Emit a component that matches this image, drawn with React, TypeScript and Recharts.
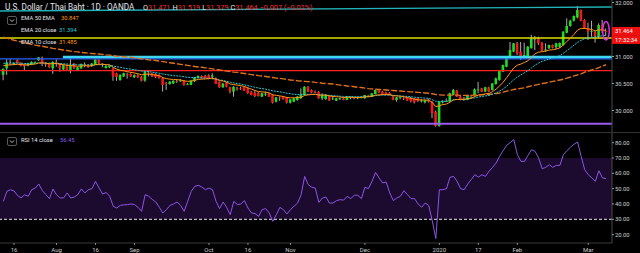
import React from 'react';
import { ComposedChart, Bar, Line, XAxis, YAxis, ReferenceLine, ReferenceArea, ReferenceDot } from 'recharts';

// ---- bar index: 0 = 16 Jul 2019, one bar per trading day ----
const FIRST_BAR = -3;
const X_MIN = -3.95;
const X_MAX = 168.7;

const opens = [30.66,30.78,30.88,30.85,30.93,30.885,30.85,30.83,30.845,30.89,
30.93,30.98,30.87,30.87,30.78,30.89,30.87,30.76,30.84,30.75,
30.87,30.75,30.78,30.86,30.845,30.82,30.845,30.94,30.87,30.785,
30.80,30.78,30.69,30.565,30.63,30.675,30.675,30.615,30.655,30.627,
30.555,30.70,30.69,30.675,30.655,30.60,30.51,30.49,30.50,30.545,
30.54,30.55,30.48,30.475,30.54,30.60,30.64,30.64,30.655,30.625,
30.60,30.53,30.43,30.515,30.43,30.35,30.42,30.41,30.44,30.41,
30.349,30.33,30.33,30.256,30.30,30.318,30.287,30.163,30.24,30.256,
30.244,30.145,30.163,30.194,30.225,30.287,30.441,30.38,30.345,30.349,
30.225,30.21,30.268,30.22,30.182,30.22,30.225,30.194,30.24,30.24,
30.235,30.24,30.225,30.28,30.256,30.305,30.38,30.349,30.33,30.33,
30.256,30.194,30.24,30.23,30.244,30.23,30.22,30.23,30.18,30.15,
30.20,30.165,29.98,29.715,30.16,30.17,30.165,30.29,30.37,30.26,
30.21,30.195,30.28,30.287,30.375,30.41,30.35,30.43,30.38,30.49,
30.565,30.72,30.81,31.00,31.09,31.244,31.09,31.00,30.997,31.151,
31.32,31.336,31.256,31.12,31.151,31.213,31.17,31.18,31.213,31.44,
31.565,31.663,31.725,31.861,31.676,31.521,31.46,31.46,31.367,31.583,
31.471];
const highs = [30.78,30.95,30.95,30.89,30.95,30.89,30.87,30.88,30.91,30.91,
30.99,31.00,30.89,30.88,30.91,30.95,30.88,30.85,30.85,31.01,
30.88,30.81,30.87,30.89,30.86,30.88,30.95,30.95,30.88,30.83,
30.83,30.80,30.70,30.67,30.70,30.70,30.69,30.67,30.67,30.64,
30.74,30.73,30.70,30.69,30.67,30.61,30.53,30.54,30.56,30.58,
30.58,30.56,30.51,30.56,30.62,30.65,30.65,30.66,30.67,30.69,
30.61,30.54,30.51,30.53,30.44,30.45,30.44,30.44,30.45,30.42,
30.36,30.36,30.34,30.33,30.349,30.33,30.30,30.25,30.26,30.26,
30.25,30.21,30.23,30.27,30.41,30.45,30.45,30.39,30.37,30.36,
30.318,30.30,30.28,30.256,30.23,30.237,30.235,30.26,30.256,30.256,
30.256,30.268,30.29,30.29,30.32,30.39,30.39,30.36,30.349,30.34,
30.27,30.25,30.256,30.244,30.25,30.25,30.23,30.24,30.21,30.20,
30.22,30.17,30.00,30.17,30.19,30.22,30.33,30.40,30.38,30.27,
30.25,30.29,30.29,30.41,30.53,30.42,30.44,30.44,30.51,30.61,
30.75,30.85,30.99,31.27,31.25,31.27,31.27,31.256,31.19,31.40,
31.38,31.367,31.27,31.244,31.22,31.22,31.256,31.26,31.47,31.706,
31.68,31.76,31.935,31.87,31.69,31.626,31.663,31.48,31.614,31.676,
31.519];
const lows = [30.56,30.66,30.84,30.84,30.87,30.82,30.74,30.82,30.84,30.87,
30.92,30.82,30.81,30.79,30.68,30.81,30.72,30.75,30.74,30.69,
30.77,30.74,30.77,30.80,30.79,30.81,30.84,30.86,30.80,30.78,
30.79,30.55,30.55,30.55,30.62,30.59,30.62,30.60,30.60,30.54,
30.53,30.63,30.62,30.60,30.59,30.35,30.38,30.48,30.49,30.51,
30.53,30.46,30.47,30.47,30.53,30.59,30.59,30.59,30.58,30.577,
30.49,30.42,30.42,30.43,30.32,30.256,30.37,30.38,30.36,30.31,
30.28,30.25,30.26,30.25,30.268,30.25,30.13,30.15,30.18,30.20,
30.13,30.13,30.155,30.18,30.22,30.28,30.34,30.32,30.318,30.22,
30.194,30.20,30.18,30.194,30.175,30.194,30.19,30.19,30.207,30.207,
30.21,30.225,30.22,30.244,30.25,30.30,30.32,30.30,30.287,30.28,
30.19,30.163,30.207,30.194,30.18,30.15,30.13,30.16,30.15,30.13,
30.15,29.86,29.70,29.70,30.13,30.16,30.16,30.28,30.25,30.19,
30.18,30.19,30.23,30.28,30.32,30.34,30.34,30.34,30.37,30.48,
30.55,30.71,30.80,30.97,31.08,31.03,30.935,30.966,30.99,31.15,
31.12,31.213,31.10,31.089,31.14,31.15,31.13,31.16,31.20,31.429,
31.55,31.65,31.706,31.65,31.51,31.305,31.367,31.256,31.336,31.429,
31.379];
const closes = [30.77,30.89,30.875,30.88,30.875,30.83,30.82,30.87,30.90,30.895,
30.985,30.87,30.865,30.80,30.90,30.875,30.78,30.84,30.75,30.84,
30.78,30.80,30.86,30.855,30.80,30.87,30.945,30.875,30.86,30.825,
30.825,30.63,30.615,30.66,30.69,30.665,30.63,30.655,30.615,30.552,
30.72,30.695,30.63,30.615,30.60,30.47,30.505,30.535,30.55,30.54,
30.555,30.47,30.49,30.555,30.615,30.64,30.60,30.60,30.60,30.65,
30.49,30.43,30.50,30.44,30.35,30.44,30.41,30.405,30.367,30.318,
30.287,30.268,30.268,30.318,30.31,30.256,30.145,30.244,30.235,30.207,
30.145,30.207,30.225,30.256,30.287,30.441,30.349,30.33,30.34,30.225,
30.287,30.29,30.182,30.225,30.225,30.225,30.194,30.256,30.245,30.235,
30.24,30.25,30.287,30.275,30.318,30.38,30.33,30.305,30.30,30.287,
30.194,30.244,30.245,30.225,30.182,30.17,30.15,30.17,30.185,30.19,
30.165,29.95,29.715,30.165,30.165,30.175,30.318,30.38,30.26,30.195,
30.215,30.287,30.275,30.392,30.39,30.348,30.429,30.35,30.50,30.595,
30.737,30.842,30.984,31.12,31.244,31.058,30.966,31.027,31.182,31.336,
31.33,31.244,31.108,31.13,31.213,31.163,31.244,31.25,31.46,31.565,
31.663,31.75,31.861,31.663,31.521,31.46,31.47,31.367,31.583,31.478,
31.464];

const ema10 = [30.83,30.84,30.845,30.85,30.855,30.85,30.845,30.845,30.855,30.86,
30.88,30.88,30.875,30.865,30.87,30.87,30.855,30.85,30.835,30.835,
30.825,30.82,30.825,30.83,30.825,30.83,30.85,30.855,30.855,30.85,
30.845,30.80,30.765,30.745,30.735,30.72,30.705,30.695,30.68,30.66,
30.67,30.675,30.665,30.655,30.645,30.61,30.59,30.58,30.575,30.57,
30.565,30.55,30.54,30.545,30.56,30.575,30.58,30.585,30.59,30.60,
30.58,30.555,30.545,30.525,30.49,30.48,30.47,30.46,30.445,30.42,
30.395,30.37,30.35,30.345,30.34,30.325,30.29,30.28,30.27,30.26,
30.24,30.235,30.235,30.24,30.245,30.28,30.29,30.295,30.30,30.285,
30.285,30.285,30.27,30.26,30.255,30.25,30.24,30.245,30.245,30.24,
30.24,30.242,30.25,30.255,30.265,30.285,30.29,30.295,30.295,30.295,
30.275,30.27,30.265,30.255,30.24,30.225,30.21,30.20,30.195,30.195,
30.19,30.15,30.07,30.09,30.11,30.12,30.155,30.195,30.205,30.205,
30.207,30.22,30.23,30.26,30.285,30.295,30.31,30.315,30.35,30.395,
30.455,30.525,30.61,30.70,30.79,30.84,30.86,30.89,30.92,30.99,
31.05,31.08,31.09,31.10,31.12,31.125,31.14,31.16,31.215,31.28,
31.34,31.41,31.49,31.52,31.52,31.51,31.50,31.475,31.495,31.49,
31.485];
const ema20 = [30.875,30.875,30.88,30.88,30.88,30.875,30.87,30.87,30.87,30.875,
30.88,30.88,30.88,30.875,30.875,30.875,30.87,30.865,30.86,30.855,
30.85,30.845,30.845,30.845,30.84,30.84,30.845,30.85,30.85,30.845,
30.84,30.825,30.81,30.80,30.785,30.775,30.765,30.755,30.745,30.73,
30.725,30.72,30.71,30.70,30.69,30.675,30.665,30.655,30.645,30.64,
30.635,30.625,30.615,30.61,30.61,30.61,30.605,30.60,30.595,30.59,
30.58,30.565,30.555,30.54,30.525,30.51,30.50,30.49,30.475,30.46,
30.445,30.43,30.415,30.405,30.395,30.38,30.365,30.355,30.345,30.335,
30.32,30.31,30.30,30.295,30.295,30.30,30.30,30.30,30.30,30.29,
30.29,30.285,30.28,30.275,30.27,30.265,30.26,30.26,30.26,30.255,
30.255,30.255,30.26,30.26,30.265,30.275,30.28,30.285,30.285,30.285,
30.28,30.275,30.27,30.265,30.26,30.255,30.245,30.24,30.235,30.23,
30.225,30.20,30.17,30.17,30.17,30.17,30.185,30.20,30.205,30.205,
30.205,30.215,30.22,30.235,30.25,30.26,30.27,30.28,30.30,30.325,
30.36,30.40,30.45,30.51,30.57,30.62,30.66,30.70,30.74,30.79,
30.84,30.88,30.91,30.93,30.955,30.975,30.995,31.015,31.06,31.11,
31.16,31.21,31.26,31.30,31.33,31.345,31.355,31.36,31.375,31.385,
31.394];
const ema50 = [31.36,31.34,31.32,31.30,31.285,31.27,31.255,31.24,31.225,31.21,
31.20,31.19,31.175,31.165,31.15,31.14,31.13,31.12,31.11,31.10,
31.09,31.085,31.075,31.07,31.06,31.055,31.05,31.045,31.04,31.03,
31.025,31.015,31.005,31.0,30.995,30.99,30.985,30.975,30.965,30.955,
30.95,30.94,30.935,30.925,30.915,30.905,30.895,30.885,30.875,30.865,
30.855,30.845,30.835,30.825,30.815,30.805,30.80,30.79,30.78,30.77,
30.76,30.75,30.74,30.73,30.72,30.71,30.705,30.695,30.685,30.675,
30.665,30.655,30.645,30.64,30.63,30.62,30.61,30.60,30.595,30.585,
30.575,30.565,30.56,30.55,30.545,30.54,30.535,30.53,30.52,30.515,
30.505,30.50,30.495,30.49,30.48,30.47,30.465,30.455,30.45,30.44,
30.43,30.425,30.415,30.405,30.40,30.395,30.39,30.385,30.38,30.375,
30.37,30.365,30.36,30.355,30.35,30.345,30.34,30.335,30.33,30.325,
30.32,30.31,30.295,30.29,30.285,30.285,30.285,30.285,30.285,30.28,
30.28,30.28,30.28,30.285,30.29,30.29,30.295,30.30,30.305,30.315,
30.325,30.34,30.36,30.37,30.39,30.40,30.41,30.42,30.44,30.455,
30.47,30.485,30.50,30.51,30.525,30.54,30.55,30.565,30.58,30.60,
30.62,30.64,30.66,30.68,30.71,30.73,30.75,30.77,30.795,30.82,
30.847];
const rsi14 = [41.7,48.3,49.3,48.5,45.5,44,46,45,49.3,50.4,
53,48.7,46.1,43.5,49.8,46,43.9,44,47.2,43.9,
44.5,46.1,49.8,47.2,49.3,50,54.8,50.4,46.5,47.5,
45,38.5,37.4,39.1,39.4,39.6,40,39.6,37.8,35.2,
46.1,45,43,41.3,37.8,34.1,36.3,39.1,40,41.3,
39.1,35.2,41.7,48.3,51.5,52.2,51,49.3,50.4,49.3,
41.7,37,41.3,37.8,33,41.7,39.6,40,42.2,37.4,
34.1,33.8,31.9,36.3,37,34.1,28.7,33,37.8,36.3,
33.5,36.3,38.5,40.6,46.1,58,52.6,50.9,50.4,41,
43.9,44.5,40.6,40.6,42.2,42.8,42.5,45,43.5,45.7,
45.7,43.5,50.9,50,54.8,60.6,57,53.7,54.3,47.2,
42.2,43.9,45,48.7,46.1,43.5,43.5,40,37.8,40.6,
39,29,17.5,49.3,49.3,50,57.4,58,54.8,50,
49.3,53,55.9,59.1,57.5,59.1,58,61.3,63.9,66.7,
71.1,74.8,78.3,80,82,72.2,67.8,67.8,71.7,75.4,
74.3,70,63,63.9,65.6,63.9,65.2,65.2,72.2,74.8,
77,79,80.4,71,62.4,59.1,57,54.8,61.7,57,
56.45];

// x axis labels
const tickIndex = [0, 12, 23, 34, 55, 66, 78, 99, 120, 131, 142, 162];
const tickLabels = ['16', 'Aug', '16', 'Sep', 'Oct', '16', 'Nov', 'Dec', '2020', '17', 'Feb', 'Mar'];

// axes
const PRICE_MIN = 29.602;
const PRICE_MAX = 32.046;
const LAST_PRICE = 31.464;
const priceTicks = [30, 30.5, 31, LAST_PRICE, 32];
const RSI_MIN = 14.54;
const RSI_MAX = 86.3;
const rsiTicks = [20, 30, 40, 50, 60, 70, 80];

// drawn levels
const trendStart = 31.843;
const trendEnd = 31.917;
const yellowLevel = 31.343;
const cyanLevel = 30.99;
const cyanStartBar = 13.8;
const blueLevel = 30.955;
const redLevel = 30.74;
const purpleLevel = 29.755;
const markBar = 167;
const markPrice = 31.476;

const data = opens.map((o, k) => ({
  i: FIRST_BAR + k,
  open: o,
  high: highs[k],
  low: lows[k],
  close: closes[k],
  range: [lows[k], highs[k]],
  ema10: ema10[k],
  ema20: ema20[k],
  ema50: ema50[k],
  rsi: rsi14[k],
}));

const GREEN = '#1fdc1f';
const RED = '#f01818';
const WICK = '#d8d8d8';
const FONT = 'Roboto, "Liberation Sans", Arial, sans-serif';

const Candle = (props: any) => {
  const { x, y, width, height, payload } = props;
  if (!payload || x == null) return null;
  const top = Math.min(y, y + height);
  const h = Math.abs(height);
  const { open, close, high, low } = payload;
  const span = high - low;
  const k = span > 0 ? h / span : 0;
  const cx = x + width / 2;
  const bTop = top + (high - Math.max(open, close)) * k;
  const bBot = top + (high - Math.min(open, close)) * k;
  const color = close >= open ? GREEN : RED;
  return (
    <g>
      <line x1={cx} x2={cx} y1={top} y2={top + h} stroke={WICK} strokeWidth={0.8} />
      <rect x={cx - 1.3} y={bTop} width={2.6} height={Math.max(bBot - bTop, 0.8)} fill={color} />
    </g>
  );
};

const PriceTick = (props: any) => {
  const { x, y, payload } = props;
  const v = payload.value;
  if (Math.abs(v - LAST_PRICE) < 1e-6) {
    return (
      <g>
        <rect x={x - 3} y={y - 4.5} width={28} height={9} fill="#ee1111" />
        <text x={x} y={y} dy="0.35em" fontSize={5.8} fill="#ffffff" fontFamily={FONT}>{v.toFixed(3)}</text>
        <rect x={x - 3} y={y + 4.5} width={28} height={8} fill="#ee1111" />
        <text x={x} y={y + 8.5} dy="0.35em" fontSize={5.8} fill="#ffffff" fontFamily={FONT}>17:32:34</text>
      </g>
    );
  }
  return (
    <text x={x} y={y} dy="0.35em" fontSize={5.8} fill="#d0d0d0" fontFamily={FONT}>{v.toFixed(3)}</text>
  );
};

const Chevron = ({ top }: { top: number }) => (
  <svg style={{ position: 'absolute', left: 7, top }} width={10} height={9}>
    <rect x={0.5} y={0.5} width={9} height={8} rx={1.5} fill="none" stroke="#5a5a5a" />
    <polyline points="3,3.5 5,5.5 7,3.5" fill="none" stroke="#cfcfcf" strokeWidth={0.9} />
  </svg>
);

const txt = (left: number, top: number, size: number, color: string, s: string) => (
  <div style={{ position: 'absolute', left, top, fontSize: size, lineHeight: `${size + 2}px`, color, fontFamily: FONT, whiteSpace: 'nowrap' }}>{s}</div>
);

export default function App() {
  return (
    <div style={{ position: 'absolute', left: 0, top: 0, width: 640, height: 253, background: '#000', overflow: 'hidden' }}>
      <div style={{ position: 'absolute', left: 0, top: 0 }}>
        <ComposedChart width={640} height={132} data={data} margin={{ top: 0, right: 0, bottom: 0, left: 0 }}>
          <XAxis dataKey="i" type="number" domain={[X_MIN, X_MAX]} allowDataOverflow hide />
          <YAxis orientation="right" width={28} domain={[PRICE_MIN, PRICE_MAX]} allowDataOverflow ticks={priceTicks} interval={0}
            tickSize={2} tickMargin={1} axisLine={{ stroke: '#4a4a4a' }} tickLine={{ stroke: '#9a9a9a' }} tick={(p: any) => <PriceTick {...p} />} />
          <ReferenceLine segment={[{ x: X_MIN, y: trendStart }, { x: X_MAX, y: trendEnd }]} stroke="#22b3b8" strokeWidth={1.4} ifOverflow="visible" />
          <ReferenceLine y={yellowLevel} stroke="#dede00" strokeWidth={1.4} />
          <ReferenceLine y={blueLevel} stroke="#2962ff" strokeWidth={1.4} />
          <ReferenceLine segment={[{ x: cyanStartBar, y: cyanLevel }, { x: X_MAX, y: cyanLevel }]} stroke="#3fd6f2" strokeWidth={2.6} />
          <ReferenceLine y={redLevel} stroke="#ff2222" strokeWidth={1.2} />
          <ReferenceLine y={purpleLevel} stroke="#9a5cf0" strokeWidth={2} />
          <Line type="linear" dataKey="ema50" stroke="#e0701c" strokeWidth={1.4} strokeDasharray="6 2" dot={false} activeDot={false} isAnimationActive={false} />
          <Bar dataKey="range" barSize={3} shape={(p: any) => <Candle {...p} />} activeBar={false} isAnimationActive={false} />
          <Line type="linear" dataKey="ema20" stroke="#2ec8d8" strokeWidth={1} strokeDasharray="2 1" dot={false} activeDot={false} isAnimationActive={false} />
          <Line type="linear" dataKey="ema10" stroke="#ff9418" strokeWidth={1} dot={false} activeDot={false} isAnimationActive={false} />
          <ReferenceDot x={markBar} y={markPrice} r={3} ifOverflow="visible"
            shape={(p: any) => <ellipse cx={p.cx} cy={p.cy} rx={3.3} ry={9.2} fill="none" stroke="#e030e8" strokeWidth={1.5} />} />
        </ComposedChart>
      </div>
      <div style={{ position: 'absolute', left: 0, top: 132, width: 640, height: 1, background: '#333' }} />
      <div style={{ position: 'absolute', left: 0, top: 133 }}>
        <ComposedChart width={640} height={120} data={data} margin={{ top: 0, right: 0, bottom: 0, left: 0 }}>
          <XAxis dataKey="i" type="number" domain={[X_MIN, X_MAX]} allowDataOverflow ticks={tickIndex} interval={0}
            tickFormatter={(v: number) => tickLabels[tickIndex.indexOf(v)] ?? ''} height={10} tickSize={2} tickMargin={3}
            axisLine={{ stroke: '#3a3a3a' }} tickLine={{ stroke: '#8a8a8a' }} tick={{ fill: '#c8c8c8', fontSize: 6, fontFamily: FONT }} />
          <YAxis orientation="right" width={28} domain={[RSI_MIN, RSI_MAX]} allowDataOverflow ticks={rsiTicks} interval={0}
            tickFormatter={(v: number) => v.toFixed(2)} tickSize={2} tickMargin={1} axisLine={{ stroke: '#4a4a4a' }}
            tickLine={{ stroke: '#9a9a9a' }} tick={{ fill: '#d0d0d0', fontSize: 5.8, fontFamily: FONT }} />
          <ReferenceArea y1={30} y2={70} fill="#1d0a2f" fillOpacity={1} stroke="none" />
          <ReferenceLine y={30} stroke="#e8e8e8" strokeDasharray="3 2" strokeWidth={1} />
          <Line type="linear" dataKey="rsi" stroke="#8a55e8" strokeWidth={1} dot={false} activeDot={false} isAnimationActive={false} />
        </ComposedChart>
      </div>
      {/* legends */}
      <div style={{ position: 'absolute', left: 5, top: 2, fontSize: 8.2, lineHeight: '11px', fontFamily: FONT, whiteSpace: 'nowrap', color: '#e0e3eb' }}>
        U.S. Dollar / Thai Baht · 1D · OANDA
      </div>
      <div style={{ position: 'absolute', left: 143, top: 3, fontSize: 7.3, lineHeight: '10px', fontFamily: FONT, whiteSpace: 'nowrap', color: '#e0e3eb' }}>
        <span>O</span><span style={{ color: '#f23030' }}>31.471</span>
        <span style={{ marginLeft: 2 }}>H</span><span style={{ color: '#f23030' }}>31.519</span>
        <span style={{ marginLeft: 2 }}>L</span><span style={{ color: '#f23030' }}>31.379</span>
        <span style={{ marginLeft: 2 }}>C</span><span style={{ color: '#f23030' }}>31.464 −0.007 (−0.02%)</span>
      </div>
      <Chevron top={16} />
      {txt(21, 15, 5.8, '#e0e3eb', 'EMA 50 EMA')}
      {txt(61, 15, 5.8, '#ff9800', '30.847')}
      {txt(21, 27, 5.8, '#e0e3eb', 'EMA 20 close')}
      {txt(59, 27, 5.8, '#26c6da', '31.394')}
      {txt(21, 39, 5.8, '#e0e3eb', 'EMA 10 close')}
      {txt(59, 39, 5.8, '#ff9800', '31.485')}
      <Chevron top={137} />
      {txt(21, 137, 5.8, '#e0e3eb', 'RSI 14 close')}
      {txt(60, 137, 5.8, '#8a5ce6', '56.45')}
    </div>
  );
}
